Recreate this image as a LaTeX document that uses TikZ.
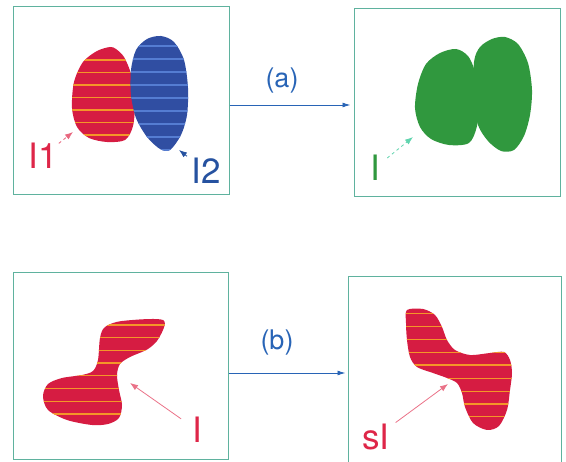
\documentclass[tikz,border=0pt]{standalone}
\usepackage{fontspec}
\setmainfont{TeX Gyre Heros}
\usetikzlibrary{arrows.meta, positioning}
\definecolor{boxline}{RGB}{95,178,158}
\definecolor{redfill}{RGB}{214,28,66}
\definecolor{redstripe}{RGB}{244,150,40}
\definecolor{bluefill}{RGB}{48,78,162}
\definecolor{bluestripe}{RGB}{85,125,210}
\definecolor{greenfill}{RGB}{48,152,62}
\definecolor{labred}{RGB}{222,38,72}
\definecolor{labblue}{RGB}{38,82,160}
\definecolor{flowblue}{RGB}{40,100,182}

% filled blob with horizontal stripes: fill, stripe, stripe y list, outline points
\newcommand{\stripedblob}[4]{%
  \begin{scope}
    \clip plot[smooth cycle] coordinates {#4};
    \fill[#1] (0,0) rectangle (566,462);
    \foreach \yy in {#3} \draw[#2, line width=1.3pt] (0,\yy) -- (566,\yy);
  \end{scope}}

\begin{document}
\begin{tikzpicture}[x=1pt, y=-1pt,
    panel/.style 2 args={draw=boxline, line width=1pt, minimum width=#1, minimum height=#2, inner sep=0pt},
    lbl/.style={inner sep=1pt, font=\fontsize{35}{35}\selectfont},
    tag/.style={inner sep=1pt, text=flowblue, font=\fontsize{27}{27}\selectfont},
    flow/.style={draw=flowblue, line width=0.9pt, -{Latex[length=8pt,width=5pt]}},
    pointer/.style={line width=0.8pt, -{Latex[length=8pt,width=6pt]}}]
  \useasboundingbox (0,0) rectangle (566,462);

  \node[panel={216pt}{188pt}] (pa) at (121,101) {};
  \node[panel={206pt}{188pt}] (pb) at (457,103) {};
  \node[panel={215pt}{187pt}] (pc) at (120.5,366.5) {};
  \node[panel={213pt}{187pt}] (pd) at (454.5,370.5) {};

  \stripedblob{redfill}{redstripe}{60,72.5,85,97.5,110,122.5,135}
    {(110,47) (97,51) (83,62) (74,82) (72,108) (77,127) (89,138) (107,142) (125,140) (133,126) (135,100) (131,74) (124,57) (116,49)}
  \stripedblob{bluefill}{bluestripe}{46,59,72,85,98,111,124,137,150}
    {(131,70) (136,50) (147,39) (161,36) (174,42) (184,60) (188,88) (187,115) (181,135) (170,150) (160,149) (147,137) (136,118) (131,95)}
  \fill[greenfill] plot[smooth cycle] coordinates {(456,49) (440,53) (426,64) (418,84) (415,108) (420,127) (431,139) (449,145) (469,143) (477,126) (479,100) (475,72) (468,56)};
  \fill[greenfill] plot[smooth cycle] coordinates {(474,62) (480,47) (492,39) (505,37) (518,44) (528,63) (532,90) (530,115) (524,136) (514,150) (501,151) (488,141) (478,125) (474,100)};
  \stripedblob{redfill}{redstripe}{325,337.7,350.4,363.1,375.8,388.5,401.2,413.9}
    {(100,338) (105,327) (122,321) (163,320) (159,338) (148,349) (130,357) (120,364) (117,375) (119,390) (122,405) (119,418) (108,424) (92,425) (67,420) (48,410) (43,396) (48,384) (62,378) (82,375) (93,371) (98,360)}
  \stripedblob{redfill}{redstripe}{313.3,326.6,339.3,352.7,365,378.3,391.7,404,416.7}
    {(407,310) (423,309) (435,315) (442,327) (447,340) (455,350) (470,355) (490,353) (504,352) (510,360) (512,373) (510,390) (507,410) (499,426) (487,430) (473,423) (465,407) (462,393) (457,383) (447,378) (433,373) (417,367) (410,357) (407,340) (406,323)}

  \coordinate (t1) at (73,132);
  \coordinate (t2) at (179,150);
  \coordinate (tg) at (413,137);
  \coordinate (ts) at (130,383);
  \coordinate (tss) at (448,384);

  \node[lbl, text=labred] (i1) at (43,156) {I1};
  \node[lbl, text=labblue] (i2) at (206,171) {I2};
  \node[lbl, text=greenfill] (ig) at (375,168) {I};
  \node[lbl, text=labred] (is) at (197,430) {I};
  \node[lbl, text=labred] (iss) at (376,437) {sI};

  \draw[pointer, draw=labred!70, dashed] (i1) -- (t1);
  \draw[pointer, draw=labblue, shorten <=4pt] (i2) -- (t2);
  \draw[pointer, draw=greenfill!60!cyan!70, dashed, shorten <=8pt] (ig) -- (tg);
  \draw[pointer, draw=labred!65, shorten <=12pt] (is) -- (ts);
  \draw[pointer, draw=labred!65, shorten <=6pt] (iss) -- (tss);

  \draw[flow, shorten >=3pt] ([yshift=-4pt]pa.east) -- ([yshift=-4pt]pa.east -| pb.west);
  \draw[flow, shorten >=2pt] ([yshift=-6.5pt]pc.east) -- ([yshift=-6.5pt]pc.east -| pd.west);
  \node[tag] (ta) at (282,81) {(a)};
  \node[tag] (tb) at (277,343) {(b)};
\end{tikzpicture}
\end{document}
